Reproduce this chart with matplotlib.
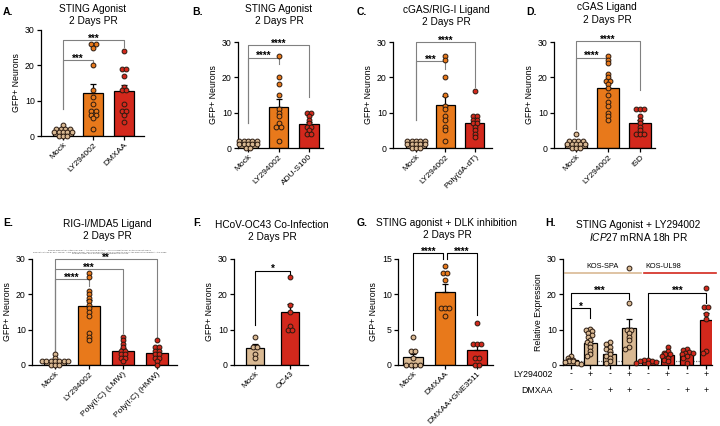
import numpy as np
import matplotlib.pyplot as plt

plt.rcParams['font.family'] = ['Liberation Sans', 'DejaVu Sans']
plt.rcParams['mathtext.fontset'] = 'custom'
plt.rcParams['mathtext.rm'] = 'Liberation Sans'
plt.rcParams['mathtext.it'] = 'Liberation Sans:italic'

TAN = '#D9B993'
ORANGE = '#E8791B'
RED = '#D3281C'
EDGE = '#2a1a10'

# ---- data ----
a_labels = ['Mock', 'LY294002', 'DMXAA']
a_means = [1.2, 12.3, 12.7]
a_sems = [0.25, 2.3, 1.8]
a_points = [[3, 2, 2, 2, 2, 1, 1, 1, 1, 1, 0, 0, 0],
            [26, 26, 25, 20, 13, 11, 9, 7, 7, 6, 6, 5, 2],
            [24, 19, 19, 17, 14, 13, 13, 9, 7, 7, 6, 4]]

b_labels = ['Mock', 'LY294002', 'ADU-S100']
b_means = [1.2, 11.7, 6.8]
b_sems = [0.2, 2.3, 0.7]
b_points = [[2, 2, 2, 2, 2, 1, 1, 1, 1, 1, 0, 0],
            [26, 20, 18, 15, 11, 10, 9, 7, 6, 6, 2],
            [10, 10, 9, 8, 7, 6, 6, 5, 4, 4]]

c_labels = ['Mock', 'LY294002', 'Poly(dA-dT)']
c_means = [1.2, 12.1, 7.2]
c_sems = [0.2, 2.5, 1.1]
c_points = [[2, 2, 2, 2, 2, 1, 1, 1, 1, 1, 0, 0, 0],
            [26, 25, 20, 15, 12, 11, 9, 8, 6, 5, 2],
            [16, 9, 9, 8, 8, 7, 7, 6, 5, 4, 3]]

d_labels = ['Mock', 'LY294002', 'ISD']
d_means = [1.3, 17.1, 7.2]
d_sems = [0.3, 1.8, 0.8]
d_points = [[4, 2, 2, 2, 2, 1, 1, 1, 1, 1, 0, 0, 0],
            [26, 25, 24, 21, 20, 19, 19, 18, 17, 15, 13, 12, 10, 9, 8],
            [11, 11, 11, 9, 8, 7, 6, 5, 4, 4, 4]]

e_labels = ['Mock', 'LY294002', 'Poly(I:C) (LMW)', 'Poly(I:C) (HMW)']
e_means = [0.95, 16.7, 4.1, 3.3]
e_sems = [0.25, 1.8, 0.8, 0.7]
e_points = [[3, 2, 1, 1, 1, 1, 1, 1, 1, 0, 0, 0],
            [26, 25, 21, 20, 19, 18, 17, 16, 15, 14, 9, 8, 7],
            [8, 7, 6, 5, 4, 4, 3, 3, 2, 2, 1],
            [7, 5, 5, 4, 4, 3, 3, 2, 2, 1, 0]]

f_labels = ['Mock', 'OC43']
f_means = [4.7, 14.9]
f_sems = [1.3, 2.3]
f_points = [[8, 5, 5, 3, 2],
            [25, 17, 15, 11, 10, 10]]

g_labels = ['Mock', 'DMXAA', 'DMXAA+GNE3511']
g_means = [1.1, 10.4, 2.1]
g_sems = [0.5, 1.0, 0.7]
g_points = [[4, 2, 2, 1, 0, 0, 0, 0],
            [14, 13, 13, 12, 8, 8, 8, 7],
            [6, 3, 3, 3, 1, 1, 0, 0]]

h_ly = ['-', '+', '-', '+', '-', '+', '-', '+']
h_dmxaa = ['-', '-', '+', '+', '-', '-', '+', '+']
h_means = [1.3, 6.1, 3.0, 10.6, 1.0, 2.9, 3.3, 12.8]
h_sems = [0.25, 0.8, 0.7, 2.5, 0.15, 0.4, 0.4, 2.0]
h_points = [[2.5, 2, 1.5, 1.5, 1, 1, 0.8, 0.5, 0.3],
            [10.3, 10, 9.5, 9, 8.5, 8, 7, 6.5, 6, 5, 4, 3, 2.5],
            [6.5, 6, 5, 4.5, 4, 3, 2.5, 2, 1, 0.5],
            [27.5, 17.5, 10, 10, 9, 8, 7, 5, 4.5],
            [1.5, 1.3, 1.2, 1, 0.8, 0.6, 0.5],
            [5, 4, 3.5, 3, 3, 2.5, 2, 1.5, 1],
            [4.5, 4.2, 3.8, 3.5, 3.3, 3, 2.5, 2, 0.5],
            [21.7, 16.4, 16.4, 14.5, 13, 4, 3.5]]
h_strains = ['KOS-SPA', 'KOS-UL98']

W, H = 720, 426
fig = plt.figure(figsize=(7.2, 4.26), dpi=100)


def swarm(vals, d, sx, sy, k=1.5):
    # beeswarm in pixel space; vertical distance stretched by k so that
    # dots may touch/overlap a little vertically, like Prism does
    vals = np.asarray(vals, dtype=float)
    order = np.argsort(-vals, kind='stable')
    placed = []
    offs = np.zeros(len(vals))
    for i in order:
        y = vals[i] * sy * k
        same = [p for p in placed if abs(p[1] - y) < 1e-6]
        if same:
            # equal values: build a centred row
            n = len(same) + 1
            row = [(j - (n - 1) / 2) * d for j in range(n)]
            idxs = [p[2] for p in same] + [i]
            placed = [p for p in placed if abs(p[1] - y) >= 1e-6]
            for c, j in zip(row, idxs):
                placed.append((c, y, j))
            continue
        cands = [0.0]
        for px, py, _ in placed:
            dy = abs(py - y)
            if dy < d:
                w = np.sqrt(d * d - dy * dy)
                cands += [px - w, px + w]
        cands.sort(key=abs)
        for c in cands:
            if all((c - px) ** 2 + (y - py) ** 2 >= d * d - 1e-6 for px, py, _ in placed):
                break
        placed.append((c, y, i))
    for c, _, j in placed:
        offs[j] = c / sx
    return offs


def panel(box, xlim, ylim, yticks, means, sems, points, colors, bw,
          brackets, bcol, labels=None, ylabel='GFP+ Neurons'):
    l, r, t, b = box
    ax = fig.add_axes([l / W, 1 - b / H, (r - l) / W, (b - t) / H])
    x = np.arange(len(means))
    ax.bar(x, means, width=bw, color=colors, edgecolor='black', linewidth=0.9, zorder=2)
    ax.errorbar(x, means, yerr=[np.zeros(len(sems)), sems], fmt='none', ecolor='black',
                elinewidth=0.9, capsize=2.3, capthick=0.9, zorder=3)
    sx = (r - l) / (xlim[1] - xlim[0])
    sy = (b - t) / (ylim[1] - ylim[0])
    for xi, pts, c in zip(x, points, colors):
        offs = swarm(pts, 4.4, sx, sy)
        ax.scatter(xi + offs, pts, s=12, facecolor=c, edgecolor=EDGE, linewidth=0.7,
                   zorder=4, clip_on=False)
    for x1, x2, y, yb1, yb2, s in brackets:
        ax.plot([x1, x1, x2, x2], [yb1, y, y, yb2], color=bcol, lw=0.8, clip_on=False, zorder=1)
        ax.annotate(s, xy=((x1 + x2) / 2, y), xytext=(0, -2.6), textcoords='offset points',
                    ha='center', va='bottom', fontsize=7, fontweight='bold',
                    annotation_clip=False)
    ax.set_xlim(xlim)
    ax.set_ylim(ylim)
    ax.set_yticks(yticks)
    ax.set_xticks(x)
    if labels is not None:
        ax.set_xticklabels(labels, rotation=45, ha='right', rotation_mode='anchor')
    else:
        ax.set_xticklabels([])
    for sp in ['top', 'right']:
        ax.spines[sp].set_visible(False)
    for sp in ['left', 'bottom']:
        ax.spines[sp].set_linewidth(0.9)
    ax.tick_params(direction='out', length=3, width=0.9, labelsize=6.3, pad=1.5)
    ax.tick_params(axis='x', labelsize=6.0, pad=1.0)
    ax.set_ylabel(ylabel, fontsize=6.3, labelpad=2.5)
    return ax


def title(cx, y1, y2, line1, line2):
    fig.text(cx / W, 1 - y1 / H, line1, ha='center', va='center', fontsize=7.3)
    fig.text(cx / W, 1 - y2 / H, line2, ha='center', va='center', fontsize=7.3)


def letter(x, y, s):
    fig.text(x / W, 1 - y / H, s, ha='left', va='center', fontsize=7.5, fontweight='bold')


GRAY = '#808080'

panel((41, 144, 30, 136), (-0.72, 2.66), (0, 30), [0, 10, 20, 30],
      a_means, a_sems, a_points, [TAN, ORANGE, RED], 0.66,
      [(0, 1, 21.5, 7.5, 19.5, '***'), (0, 2, 27.2, 7.5, 25.2, '***')], GRAY, a_labels)
title(93, 9, 21, 'STING Agonist', '2 Days PR')
letter(3, 12, 'A.')

panel((238, 323, 42, 148), (-0.33, 2.46), (0, 30), [0, 10, 20, 30],
      b_means, b_sems, b_points, [TAN, ORANGE, RED], 0.65,
      [(0, 1, 25.6, 7, 23.8, '****'), (0, 2, 29.2, 7, 14.5, '****')], GRAY, b_labels)
title(279, 9, 21, 'STING Agonist', '2 Days PR')
letter(192, 12, 'B.')

panel((393, 492, 42, 148), (-0.78, 2.58), (0, 30), [0, 10, 20, 30],
      c_means, c_sems, c_points, [TAN, ORANGE, RED], 0.65,
      [(0, 1, 24.6, 8, 22.5, '***'), (0, 2, 30, 8, 17.2, '****')], GRAY, c_labels)
title(446, 10, 22, 'cGAS/RIG-I Ligand', '2 Days PR')
letter(357, 12, 'C.')

panel((554, 655, 42, 148), (-0.69, 2.47), (0, 30), [0, 10, 20, 30],
      d_means, d_sems, d_points, [TAN, ORANGE, RED], 0.67,
      [(0, 1, 25.6, 5.5, 24.1, '****'), (0, 2, 30.3, 5.5, 16.4, '****')], GRAY, d_labels)
title(607, 7.5, 20, 'cGAS Ligand', '2 Days PR')
letter(526, 12, 'D.')

panel((32, 177, 259, 365), (-0.68, 3.59), (0, 30), [0, 10, 20, 30],
      e_means, e_sems, e_points, [TAN, ORANGE, RED, RED], 0.65,
      [(0, 1, 24.3, 3.8, 22.4, '****'), (0, 2, 27.2, 3.8, 9.0, '***'),
       (0, 3, 30, 3.8, 6.6, '**')], GRAY, e_labels)
title(107, 224, 236, 'RIG-I/MDA5 Ligand', '2 Days PR')
letter(3, 223, 'E.')
fig.text(100 / W, 1 - 252 / H,
         'bioRxiv preprint doi: https://doi.org/...; this version posted ... The copyright holder for this preprint (which\n'
         'was not certified by peer review) is the author/funder, who has granted bioRxiv a license to display the preprint in perpetuity. It is made\n'
         'available under aCC-BY-NC-ND 4.0 International license.',
         ha='center', va='center', fontsize=1.6, color='#555555', linespacing=1.0)

panel((234, 308, 259, 365), (-0.6, 1.51), (0, 30), [0, 10, 20, 30],
      f_means, f_sems, f_points, [TAN, RED], 0.5,
      [(0, 1, 26.7, 11.4, 25.5, '*')], 'black', f_labels)
title(272, 225, 237, 'HCoV-OC43 Co-Infection', '2 Days PR')
letter(193, 223, 'F.')

panel((398, 493, 259, 365), (-0.47, 2.5), (0, 15), [0, 5, 10, 15],
      g_means, g_sems, g_points, [TAN, ORANGE, RED], 0.62,
      [(0, 0.95, 15.8, 4.9, 15.0, '****'), (1.05, 2, 15.8, 15.0, 7.1, '****')], 'black', g_labels)
title(447, 223, 235, 'STING agonist + DLK inhibition', '2 Days PR')
letter(357, 223, 'G.')

hax = panel((563, 712, 259, 365), (-0.42, 7.3), (0, 30), [0, 10, 20, 30],
            h_means, h_sems, h_points, [TAN] * 4 + [RED] * 4, 0.68,
            [(0, 1, 16.2, 2.5, 13.3, '*'), (0, 3, 20.5, 2.5, 18.6, '***'),
             (4, 7, 20.5, 1.8, 17.6, '***')], 'black', None, 'Relative Expression')
hax.axhline(1, color='#777777', lw=0.9, ls=(0, (1, 1)), zorder=1)
hax.plot([-0.31, 3.6], [26, 26], color=TAN, lw=1.2, clip_on=False)
hax.plot([3.76, 7.5], [26, 26], color=RED, lw=1.2, clip_on=False)
hax.text(1.65, 26.8, h_strains[0], ha='center', va='bottom', fontsize=5.3)
hax.text(4.8, 26.8, h_strains[1], ha='center', va='bottom', fontsize=5.3)
for i, (s1, s2) in enumerate(zip(h_ly, h_dmxaa)):
    hax.text(i, -0.085, s1, transform=hax.get_xaxis_transform(), ha='center', va='center', fontsize=6.3)
    hax.text(i, -0.236, s2, transform=hax.get_xaxis_transform(), ha='center', va='center', fontsize=6.3)
hax.text(-0.068, -0.085, 'LY294002', transform=hax.transAxes, ha='right', va='center', fontsize=6.3)
hax.text(-0.068, -0.236, 'DMXAA', transform=hax.transAxes, ha='right', va='center', fontsize=6.3)
title(638, 225, 237, 'STING Agonist + LY294002', r'$\it{ICP27}$ mRNA 18h PR')
letter(545, 223, 'H.')

fig.savefig('out.png', dpi=100)
